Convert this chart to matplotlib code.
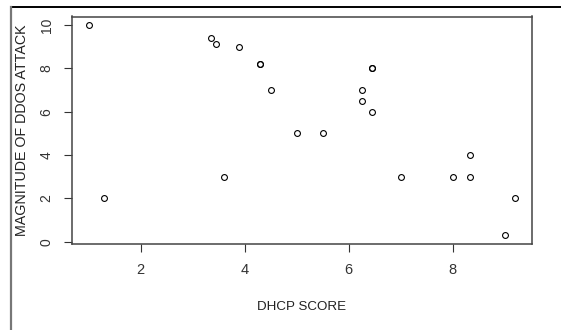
import matplotlib
matplotlib.use('Agg')
from matplotlib import pyplot as plt
from matplotlib.lines import Line2D

# DHCP score vs magnitude of DDoS attack
dhcp_score = [1.0, 1.3, 3.35, 3.45, 3.9, 3.6, 4.3, 4.3, 4.5, 5.0, 5.5,
              6.25, 6.25, 6.45, 6.45, 6.45, 7.0, 8.0, 8.33, 8.33, 9.0, 9.2]
ddos_magnitude = [10, 2, 9.4, 9.1, 9.0, 3, 8.2, 8.2, 7, 5, 5,
                  7, 6.5, 8, 8, 6, 3, 3, 4, 3, 0.3, 2]
x_ticks = [2, 4, 6, 8]
y_ticks = [0, 2, 4, 6, 8, 10]

font = ['Liberation Sans', 'DejaVu Sans']

fig = plt.figure(figsize=(5.61, 3.3), dpi=100)
ax = fig.add_axes([0.1278, 0.2615, 0.8205, 0.6885])

ax.plot(dhcp_score, ddos_magnitude, 'o', mfc='none', mec='black',
        ms=4.2, mew=0.8)

# R style 4% padding
xr = max(dhcp_score) - min(dhcp_score)
yr = max(ddos_magnitude) - min(ddos_magnitude)
ax.set_xlim(min(dhcp_score) - 0.04 * xr, max(dhcp_score) + 0.04 * xr)
ax.set_ylim(min(ddos_magnitude) - 0.04 * yr, max(ddos_magnitude) + 0.04 * yr)

ax.set_xticks(x_ticks)
ax.set_xticklabels([str(t) for t in x_ticks], family=font, fontsize=10.5)
ax.set_yticks(y_ticks)
ax.set_yticklabels([str(t) for t in y_ticks], family=font, fontsize=10,
                   rotation=90, va='center')
ax.tick_params(axis='x', length=6, width=0.8, pad=8, colors='#333333')
ax.tick_params(axis='y', length=6, width=0.8, pad=7, colors='#333333')

for s in ax.spines.values():
    s.set_linewidth(1.1)
    s.set_color('#444444')

ax.set_xlabel('DHCP SCORE', family=font, fontsize=9.6, color='#222222',
              labelpad=17)
ax.set_ylabel('MAGNITUDE OF DDOS ATTACK', family=font, fontsize=10.3,
              color='#222222', labelpad=8)

# screenshot frame lines
fig.add_artist(Line2D([11 / 561, 1], [1 - 7.3 / 330, 1 - 7.3 / 330],
                      transform=fig.transFigure, color='black', lw=1.4))
fig.add_artist(Line2D([11 / 561, 11 / 561], [0, 1 - 7.3 / 330],
                      transform=fig.transFigure, color='#777777', lw=1.6))

fig.savefig('out.png', dpi=100)
